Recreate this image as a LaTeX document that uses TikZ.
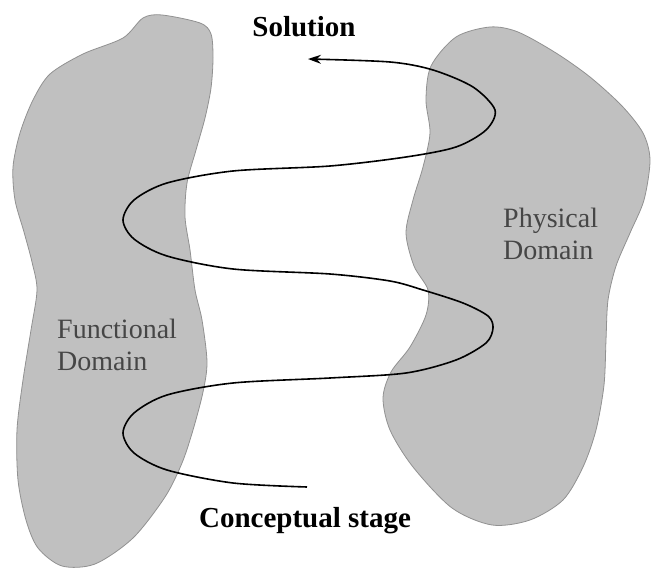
\documentclass[tikz,border=0pt]{standalone}
\usepackage{fontspec}
\setmainfont{LiberationSerif-Regular.ttf}[BoldFont=LiberationSerif-Bold.ttf]
\usepackage{tikz}
\usetikzlibrary{arrows.meta,positioning}
\definecolor{blobgray}{RGB}{192,192,192}
\definecolor{edgegray}{RGB}{145,145,145}
\definecolor{labelgray}{RGB}{70,70,70}

\begin{document}
\begin{tikzpicture}[x=1pt,y=-1pt,
    domainblob/.style={fill=blobgray,draw=edgegray,line width=0.8pt},
    domainlabel/.style={anchor=north west,inner sep=0pt,align=left,text=labelgray,
      font=\fontsize{28}{32}\selectfont},
    stagelabel/.style={anchor=base,inner sep=0pt,font=\fontsize{29}{34}\selectfont\bfseries},
    spiral/.style={line width=1.6pt,-{Stealth[length=13pt,width=9pt]}}]
  \useasboundingbox (0,0) rectangle (653,569);
  \fill[white] (0,0) rectangle (653,569);

  % functional domain
  \draw[domainblob] plot[smooth cycle] coordinates {(143,18) (162,15) (200,23) (211,34)
    (213,58) (211,88) (205,118) (196,150) (187,183) (185,217) (190,250) (195,290)
    (202,320) (207,362) (203,392) (193,430) (182,463) (165,497) (133,538) (95,564)
    (62,566) (38,548) (26,520) (18,480) (17,430) (23,380) (31,330) (37,290) (32,262)
    (24,232) (15,200) (13,167) (20,133) (33,100) (50,74) (83,54) (123,38)};

  % physical domain
  \draw[domainblob] plot[smooth cycle] coordinates {(456,37) (490,27) (518,32) (556,53)
    (590,77) (622,106) (643,133) (650,160) (644,200) (630,233) (616,266) (608,300)
    (606,340) (604,385) (596,430) (583,467) (563,500) (530,520) (492,525) (452,508)
    (413,467) (390,430) (383,398) (391,372) (410,347) (426,315) (428,290) (414,266)
    (406,233) (413,200) (423,167) (430,133) (426,100) (431,66)};

  \node[domainlabel] (func) at (57,319) {Functional\\Domain};
  \node[domainlabel] (phys) at (503,208) {Physical\\Domain};

  \node[stagelabel] (solution) at (304,37) {Solution};
  \node[stagelabel] (concept) at (305,527) {Conceptual stage};

  \coordinate (start) at (307,487);
  \coordinate (finish) at (308,59);

  \draw[spiral] plot[smooth] coordinates {(start) (233,483) (167,470) (134,453) (123,433)
    (134,413) (167,395) (233,383) (330,378) (406,373) (456,360) (486,343) (493,328)
    (488,316) (463,303) (423,290) (390,281) (330,274) (233,269) (167,256) (134,239)
    (123,220) (134,200) (167,183) (233,171) (330,166) (406,157) (456,147) (486,130)
    (495,110) (473,87) (433,70) (390,62) (finish)};
\end{tikzpicture}
\end{document}
